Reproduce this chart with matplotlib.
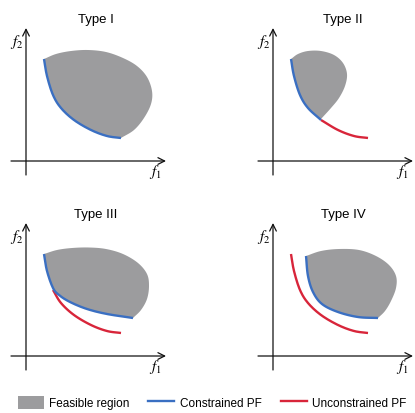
import numpy as np
import matplotlib.pyplot as plt
from matplotlib.patches import Patch
from matplotlib.lines import Line2D

# shape points, (f1, f2) with the origin where the two axes cross
pf_base = [(18, 102), (21, 85), (27, 66), (35, 53), (48, 41), (65, 31), (81, 25), (95, 23)]
type1_outer = [(95, 23), (108, 31), (118, 43), (125, 57), (126, 70), (121, 84), (111, 95),
               (97, 103), (80, 109), (62, 111), (45, 110), (30, 107), (18, 102)]
type2_outer = [(48, 42), (58, 53), (66, 63), (72, 75), (74, 87), (70, 98), (61, 106),
               (48, 110), (35, 110), (25, 107), (18, 102)]
type3_cpf = [(18, 102), (21, 85), (27, 68), (33, 61), (44, 54), (61, 47), (81, 42), (107, 38)]
type3_outer = [(107, 38), (115, 46), (121, 57), (123, 70), (121, 82), (112, 93), (97, 102),
               (80, 107), (63, 108.5), (46, 108), (31, 106), (18, 102)]
type4_cpf = [(33, 100), (35, 80), (40, 64), (49, 52), (65, 44), (85, 39), (105, 38)]
type4_outer = [(105, 38), (112, 45), (118, 55), (123, 68), (123, 80), (116, 91), (103, 100),
               (86, 106), (66, 107), (48, 105), (33, 100)]
titles = ['Type I', 'Type II', 'Type III', 'Type IV']
legend_labels = ['Feasible region', 'Constrained PF', 'Unconstrained PF']

gray = '#9c9c9e'
blue = '#3a6fc2'
red = '#d8253a'

plt.rcParams['font.family'] = ['Liberation Sans', 'DejaVu Sans']
plt.rcParams['mathtext.fontset'] = 'stix'


def smooth(pts, n=20):
    # catmull-rom through the points
    p = np.asarray(pts, float)
    p = np.vstack([2*p[0]-p[1], p, 2*p[-1]-p[-2]])
    t = np.linspace(0, 1, n, endpoint=False)[:, None]
    out = []
    for i in range(1, len(p)-2):
        p0, p1, p2, p3 = p[i-1], p[i], p[i+1], p[i+2]
        out.append(0.5*(2*p1 + (-p0+p2)*t + (2*p0-5*p1+4*p2-p3)*t**2 + (-p0+3*p1-3*p2+p3)*t**3))
    out.append(p[-2][None])
    return np.vstack(out)


def draw_panel(ax, title, region, cpf, upf):
    ax.set_xlim(-26, 142)
    ax.set_ylim(-22, 152)
    ax.axis('off')
    ax.fill(region[:, 0], region[:, 1], color=gray, lw=0)
    if upf is not None:
        ax.plot(upf[:, 0], upf[:, 1], color=red, lw=1.7, solid_capstyle='butt')
    ax.plot(cpf[:, 0], cpf[:, 1], color=blue, lw=1.7, solid_capstyle='butt')
    arrow = dict(arrowstyle='->', lw=0.9, color='#111111', mutation_scale=12, shrinkA=0, shrinkB=0)
    ax.annotate('', xy=(140, 0), xytext=(-15, 0), arrowprops=arrow, annotation_clip=False)
    ax.annotate('', xy=(0, 133), xytext=(0, -14), arrowprops=arrow, annotation_clip=False)
    ax.text(129, -10, '$f_1$', fontsize=11, ha='center', va='center')
    ax.text(-9, 120, '$f_2$', fontsize=11, ha='center', va='center')
    ax.text(70, 142, title, fontsize=9.5, ha='center', va='center')


fig = plt.figure(figsize=(4.15, 4.14), dpi=100)
origins = [(26, 162), (273, 162), (26, 357), (273, 357)]
axes = [fig.add_axes([(ox-26)/415, (414-(oy+22))/414, 168/415, 174/414]) for ox, oy in origins]

base = smooth(pf_base)
# Type I: whole front is feasible
draw_panel(axes[0], titles[0], np.vstack([base, smooth(type1_outer)]), base, None)
# Type II: part of the front is cut off
cut = smooth(pf_base[:5])
draw_panel(axes[1], titles[1], np.vstack([cut, smooth(type2_outer)]), cut, smooth(pf_base[4:]))
# Type III: fronts split partway
c3 = smooth(type3_cpf)
draw_panel(axes[2], titles[2], np.vstack([c3, smooth(type3_outer)]), c3, smooth(pf_base[2:]))
# Type IV: fronts fully apart
c4 = smooth(type4_cpf)
draw_panel(axes[3], titles[3], np.vstack([c4, smooth(type4_outer)]), c4, base)

handles = [Patch(facecolor=gray, edgecolor='none'),
           Line2D([], [], color=blue, lw=1.7),
           Line2D([], [], color=red, lw=1.7)]
fig.legend(handles, legend_labels, loc='center', bbox_to_anchor=(0.511, 0.025), ncol=3,
           frameon=False, fontsize=8.5, handlelength=2.2, handleheight=1.25,
           handletextpad=0.45, columnspacing=1.6, borderpad=0)

fig.savefig('out.png', dpi=100)
